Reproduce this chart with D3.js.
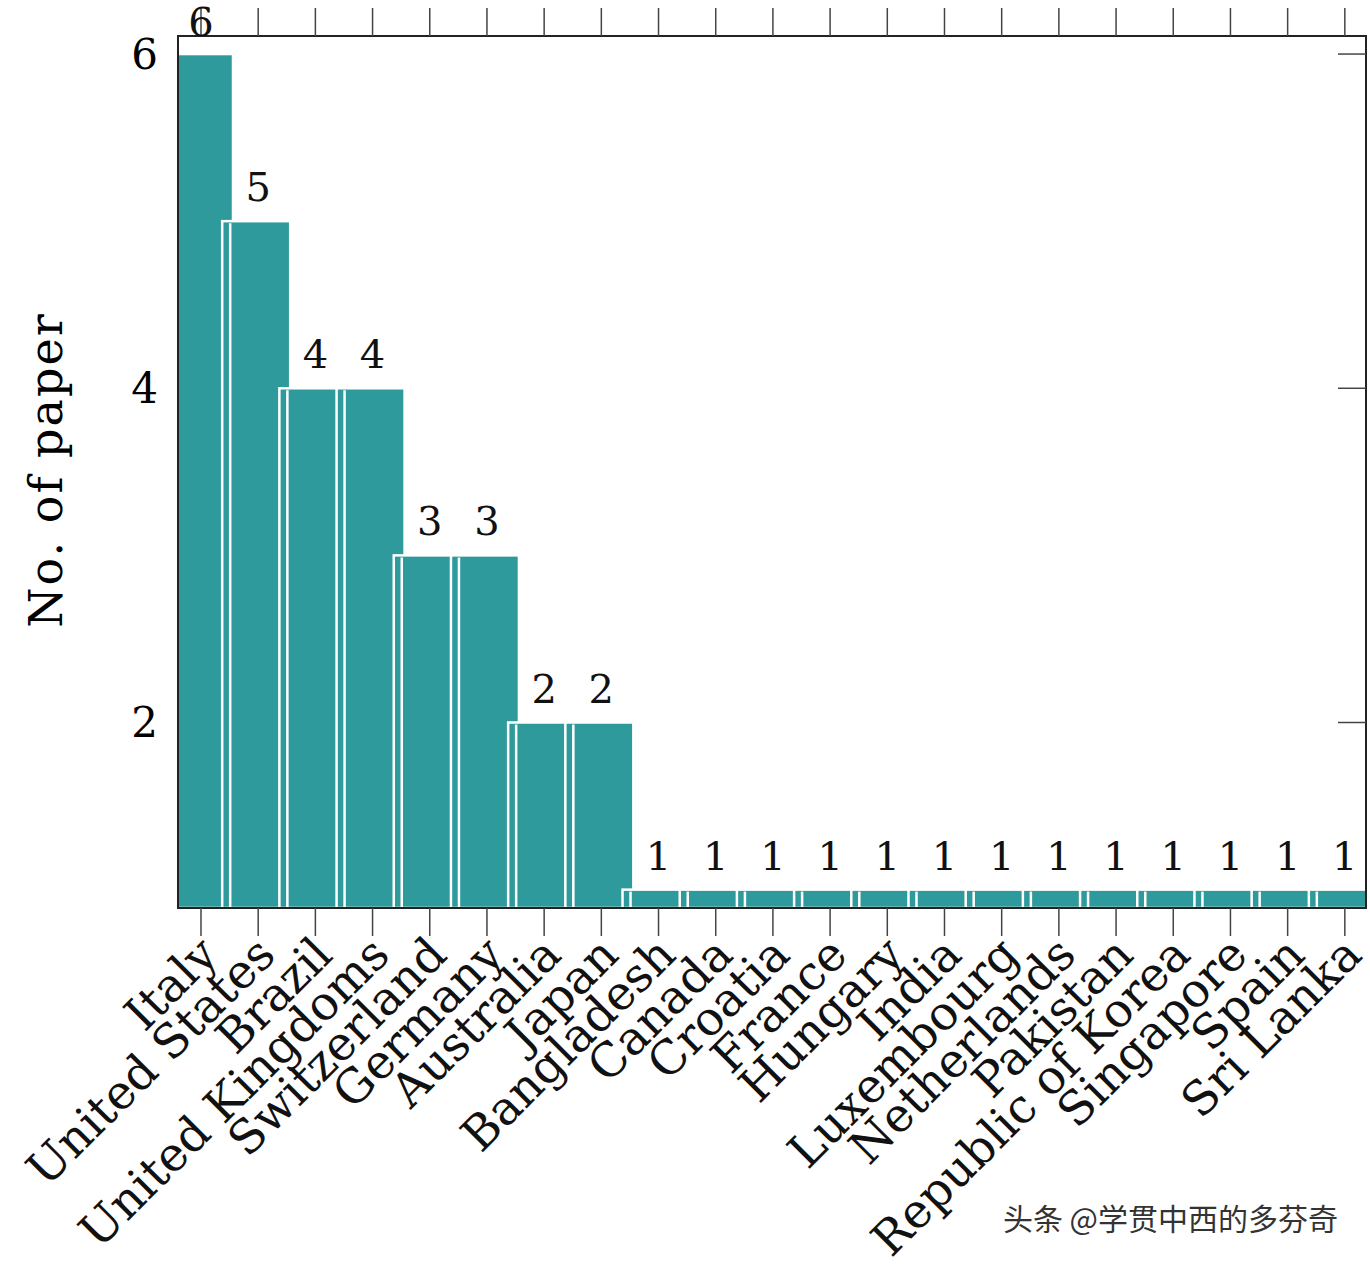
<!DOCTYPE html>
<html><head><meta charset="utf-8">
<script src="https://cdn.jsdelivr.net/npm/d3@7"></script>
<style>body{margin:0;background:#fff}svg{display:block}</style>
</head><body>
<script>
const categories = ["Italy","United States","Brazil","United Kingdoms","Switzerland","Germany","Australia","Japan","Bangladesh","Canada","Croatia","France","Hungary","India","Luxembourg","Netherlands","Pakistan","Republic of Korea","Singapore","Spain","Sri Lanka"];
const values = [6,5,4,4,3,3,2,2,1,1,1,1,1,1,1,1,1,1,1,1,1];
const yTicks = [2,4,6];

const W=1370,H=1268, L=178,R=1366,T=36,B=908;
const font="'DejaVu Serif','Liberation Serif',serif";
const svg=d3.select("body").append("svg").attr("width",W).attr("height",H);
const x=d3.scaleLinear().domain([-0.402,20.37]).range([L,R]);
const y=d3.scaleLinear().domain([0.89,6.108]).range([B,T]);
const color="#2e9a9c";

svg.append("defs").append("clipPath").attr("id","c").append("rect")
  .attr("x",L).attr("y",T).attr("width",R-L).attr("height",B-T);
const g=svg.append("g").attr("clip-path","url(#c)");
const bars=g.selectAll("g.bar").data(values).join("g").attr("class","bar");
bars.append("rect")
  .attr("x",(d,i)=>x(i)-36).attr("width",68)
  .attr("y",d=>y(d)).attr("height",d=>B-y(d))
  .attr("fill",color).attr("stroke","#fff").attr("stroke-width",2.5);
bars.append("line")
  .attr("x1",(d,i)=>x(i)-28).attr("x2",(d,i)=>x(i)-28)
  .attr("y1",d=>y(d)+2).attr("y2",B)
  .attr("stroke","#fff").attr("stroke-width",2.5);

// frame
svg.append("rect").attr("x",L).attr("y",T).attr("width",R-L).attr("height",B-T)
  .attr("fill","none").attr("stroke","#222").attr("stroke-width",2);

// ticks
categories.forEach((c,i)=>{
  const xx=x(i);
  svg.append("line").attr("x1",xx).attr("x2",xx).attr("y1",B).attr("y2",B+28).attr("stroke","#444").attr("stroke-width",1.5);
  svg.append("line").attr("x1",xx).attr("x2",xx).attr("y1",T).attr("y2",T-28).attr("stroke","#444").attr("stroke-width",1.5);
});
yTicks.forEach(v=>{
  svg.append("line").attr("x1",R).attr("x2",R-28).attr("y1",y(v)).attr("y2",y(v)).attr("stroke","#444").attr("stroke-width",1.5);
  svg.append("text").attr("x",L-20).attr("y",y(v)).attr("dy","0.35em").attr("text-anchor","end")
    .attr("font-family",font).attr("font-size",42).text(v);
});

// value labels
svg.selectAll("text.val").data(values).join("text").attr("class","val")
  .attr("x",(d,i)=>x(i)).attr("y",d=>Math.max(36,y(d)-20)).attr("text-anchor","middle")
  .attr("font-family",font).attr("font-size",40).attr("fill","#111").text(d=>d);

// category labels
svg.selectAll("text.cat").data(categories).join("text").attr("class","cat")
  .attr("transform",(d,i)=>`translate(${x(i)-4},${B+26}) rotate(-45)`)
  .attr("text-anchor","end").attr("dy","0.7em")
  .attr("font-family",font).attr("font-size",47).attr("fill","#111").text(d=>d);

// y label
svg.append("text").attr("transform",`translate(62,${470}) rotate(-90)`)
  .attr("text-anchor","middle").attr("font-family",font).attr("font-size",46)
  .attr("letter-spacing",2).text("No. of paper");

// watermark
svg.append("text").attr("x",1338).attr("y",1230).attr("text-anchor","end")
  .attr("font-family","'Noto Sans CJK SC',sans-serif").attr("font-size",30).attr("fill","#333")
  .text("头条 @学贯中西的多芬奇");
</script>
</body></html>
